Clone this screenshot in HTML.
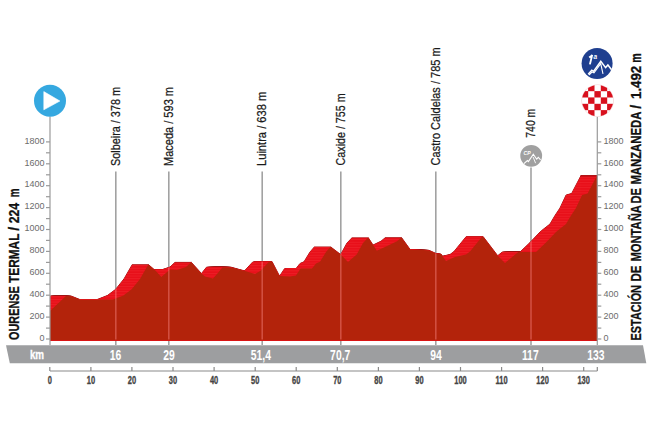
<!DOCTYPE html><html><head><meta charset="utf-8"><style>
html,body{margin:0;padding:0;background:#fff;width:650px;height:433px;overflow:hidden}
svg{display:block}
text{font-family:"Liberation Sans",sans-serif}
</style></head><body>
<svg width="650" height="433" viewBox="0 0 650 433">
<defs><clipPath id="cl"><rect x="50" y="0" width="547.3" height="433"/></clipPath></defs>

<g stroke="#a2a2a2" stroke-width="1.6">
<line x1="115.8" y1="171.5" x2="115.8" y2="345"/>
<line x1="168.8" y1="171.5" x2="168.8" y2="345"/>
<line x1="262.2" y1="171.5" x2="262.2" y2="345"/>
<line x1="340.8" y1="171.5" x2="340.8" y2="345"/>
<line x1="435.8" y1="171.5" x2="435.8" y2="345"/>
<line x1="531" y1="167.4" x2="531" y2="345"/>
</g>
<g clip-path="url(#cl)">
<g fill="none" stroke="#9c1010" stroke-width="1.0" stroke-linejoin="round">
<polygon points="50.0,340.5 50.0,311.0 66.0,296.0 71.0,296.0 80.0,299.6 113.0,299.6 123.4,295.5 131.7,289.3 140.0,278.9 148.3,264.5 155.9,271.0 161.3,277.0 170.0,269.5 177.0,270.0 186.0,267.0 191.2,262.2 201.9,274.0 205.0,276.5 213.0,278.5 217.9,273.0 222.5,267.2 231.0,267.2 244.2,270.8 255.0,274.0 260.5,270.8 268.7,262.0 272.0,261.5 279.5,276.0 290.0,276.5 296.0,275.5 300.6,268.6 312.0,268.6 316.0,263.5 320.0,261.8 326.0,252.0 330.5,246.8 340.7,254.5 348.0,262.0 356.7,254.5 363.0,243.0 368.2,237.6 376.8,250.8 385.0,247.0 397.0,241.2 401.5,237.5 410.2,249.6 429.0,250.3 436.0,253.5 441.0,254.0 446.0,261.0 455.0,257.0 466.0,254.5 470.0,251.5 482.2,236.6 483.1,236.6 497.7,255.7 505.0,263.0 513.7,255.7 518.3,252.0 536.0,252.0 546.0,242.5 556.0,232.0 559.0,229.5 566.0,224.0 571.0,215.5 576.0,208.0 582.1,195.0 587.6,193.6 597.3,175.0 597.3,340.5"/>
<polygon points="49.0,340.5 49.0,311.0 65.0,296.0 70.0,296.0 79.0,299.6 112.0,299.6 122.4,295.5 130.7,289.3 139.0,278.9 147.3,264.5 154.9,271.0 160.3,277.0 169.0,269.5 176.0,270.0 185.0,267.0 190.2,262.2 200.9,274.0 204.0,276.5 212.0,278.5 216.9,273.0 221.5,267.2 230.0,267.2 243.2,270.8 254.0,274.0 259.5,270.8 267.7,262.0 271.0,261.5 278.5,276.0 289.0,276.5 295.0,275.5 299.6,268.6 311.0,268.6 315.0,263.5 319.0,261.8 325.0,252.0 329.5,246.8 339.7,254.5 347.0,262.0 355.7,254.5 362.0,243.0 367.2,237.6 375.8,250.8 384.0,247.0 396.0,241.2 400.5,237.5 409.2,249.6 428.0,250.3 435.0,253.5 440.0,254.0 445.0,261.0 454.0,257.0 465.0,254.5 469.0,251.5 481.2,236.6 482.1,236.6 496.7,255.7 504.0,263.0 512.7,255.7 517.3,252.0 535.0,252.0 545.0,242.5 555.0,232.0 558.0,229.5 565.0,224.0 570.0,215.5 575.0,208.0 581.1,195.0 586.6,193.6 596.3,175.0 596.3,340.5"/>
<polygon points="48.0,340.5 48.0,311.0 64.0,296.0 69.0,296.0 78.0,299.6 111.0,299.6 121.4,295.5 129.7,289.3 138.0,278.9 146.3,264.5 153.9,271.0 159.3,277.0 168.0,269.5 175.0,270.0 184.0,267.0 189.2,262.2 199.9,274.0 203.0,276.5 211.0,278.5 215.9,273.0 220.5,267.2 229.0,267.2 242.2,270.8 253.0,274.0 258.5,270.8 266.7,262.0 270.0,261.5 277.5,276.0 288.0,276.5 294.0,275.5 298.6,268.6 310.0,268.6 314.0,263.5 318.0,261.8 324.0,252.0 328.5,246.8 338.7,254.5 346.0,262.0 354.7,254.5 361.0,243.0 366.2,237.6 374.8,250.8 383.0,247.0 395.0,241.2 399.5,237.5 408.2,249.6 427.0,250.3 434.0,253.5 439.0,254.0 444.0,261.0 453.0,257.0 464.0,254.5 468.0,251.5 480.2,236.6 481.1,236.6 495.7,255.7 503.0,263.0 511.7,255.7 516.3,252.0 534.0,252.0 544.0,242.5 554.0,232.0 557.0,229.5 564.0,224.0 569.0,215.5 574.0,208.0 580.1,195.0 585.6,193.6 595.3,175.0 595.3,340.5"/>
<polygon points="47.0,340.5 47.0,311.0 63.0,296.0 68.0,296.0 77.0,299.6 110.0,299.6 120.4,295.5 128.7,289.3 137.0,278.9 145.3,264.5 152.9,271.0 158.3,277.0 167.0,269.5 174.0,270.0 183.0,267.0 188.2,262.2 198.9,274.0 202.0,276.5 210.0,278.5 214.9,273.0 219.5,267.2 228.0,267.2 241.2,270.8 252.0,274.0 257.5,270.8 265.7,262.0 269.0,261.5 276.5,276.0 287.0,276.5 293.0,275.5 297.6,268.6 309.0,268.6 313.0,263.5 317.0,261.8 323.0,252.0 327.5,246.8 337.7,254.5 345.0,262.0 353.7,254.5 360.0,243.0 365.2,237.6 373.8,250.8 382.0,247.0 394.0,241.2 398.5,237.5 407.2,249.6 426.0,250.3 433.0,253.5 438.0,254.0 443.0,261.0 452.0,257.0 463.0,254.5 467.0,251.5 479.2,236.6 480.1,236.6 494.7,255.7 502.0,263.0 510.7,255.7 515.3,252.0 533.0,252.0 543.0,242.5 553.0,232.0 556.0,229.5 563.0,224.0 568.0,215.5 573.0,208.0 579.1,195.0 584.6,193.6 594.3,175.0 594.3,340.5"/>
<polygon points="46.0,340.5 46.0,311.0 62.0,296.0 67.0,296.0 76.0,299.6 109.0,299.6 119.4,295.5 127.7,289.3 136.0,278.9 144.3,264.5 151.9,271.0 157.3,277.0 166.0,269.5 173.0,270.0 182.0,267.0 187.2,262.2 197.9,274.0 201.0,276.5 209.0,278.5 213.9,273.0 218.5,267.2 227.0,267.2 240.2,270.8 251.0,274.0 256.5,270.8 264.7,262.0 268.0,261.5 275.5,276.0 286.0,276.5 292.0,275.5 296.6,268.6 308.0,268.6 312.0,263.5 316.0,261.8 322.0,252.0 326.5,246.8 336.7,254.5 344.0,262.0 352.7,254.5 359.0,243.0 364.2,237.6 372.8,250.8 381.0,247.0 393.0,241.2 397.5,237.5 406.2,249.6 425.0,250.3 432.0,253.5 437.0,254.0 442.0,261.0 451.0,257.0 462.0,254.5 466.0,251.5 478.2,236.6 479.1,236.6 493.7,255.7 501.0,263.0 509.7,255.7 514.3,252.0 532.0,252.0 542.0,242.5 552.0,232.0 555.0,229.5 562.0,224.0 567.0,215.5 572.0,208.0 578.1,195.0 583.6,193.6 593.3,175.0 593.3,340.5"/>
<polygon points="45.0,340.5 45.0,311.0 61.0,296.0 66.0,296.0 75.0,299.6 108.0,299.6 118.4,295.5 126.7,289.3 135.0,278.9 143.3,264.5 150.9,271.0 156.3,277.0 165.0,269.5 172.0,270.0 181.0,267.0 186.2,262.2 196.9,274.0 200.0,276.5 208.0,278.5 212.9,273.0 217.5,267.2 226.0,267.2 239.2,270.8 250.0,274.0 255.5,270.8 263.7,262.0 267.0,261.5 274.5,276.0 285.0,276.5 291.0,275.5 295.6,268.6 307.0,268.6 311.0,263.5 315.0,261.8 321.0,252.0 325.5,246.8 335.7,254.5 343.0,262.0 351.7,254.5 358.0,243.0 363.2,237.6 371.8,250.8 380.0,247.0 392.0,241.2 396.5,237.5 405.2,249.6 424.0,250.3 431.0,253.5 436.0,254.0 441.0,261.0 450.0,257.0 461.0,254.5 465.0,251.5 477.2,236.6 478.1,236.6 492.7,255.7 500.0,263.0 508.7,255.7 513.3,252.0 531.0,252.0 541.0,242.5 551.0,232.0 554.0,229.5 561.0,224.0 566.0,215.5 571.0,208.0 577.1,195.0 582.6,193.6 592.3,175.0 592.3,340.5"/>
<polygon points="44.0,340.5 44.0,311.0 60.0,296.0 65.0,296.0 74.0,299.6 107.0,299.6 117.4,295.5 125.7,289.3 134.0,278.9 142.3,264.5 149.9,271.0 155.3,277.0 164.0,269.5 171.0,270.0 180.0,267.0 185.2,262.2 195.9,274.0 199.0,276.5 207.0,278.5 211.9,273.0 216.5,267.2 225.0,267.2 238.2,270.8 249.0,274.0 254.5,270.8 262.7,262.0 266.0,261.5 273.5,276.0 284.0,276.5 290.0,275.5 294.6,268.6 306.0,268.6 310.0,263.5 314.0,261.8 320.0,252.0 324.5,246.8 334.7,254.5 342.0,262.0 350.7,254.5 357.0,243.0 362.2,237.6 370.8,250.8 379.0,247.0 391.0,241.2 395.5,237.5 404.2,249.6 423.0,250.3 430.0,253.5 435.0,254.0 440.0,261.0 449.0,257.0 460.0,254.5 464.0,251.5 476.2,236.6 477.1,236.6 491.7,255.7 499.0,263.0 507.7,255.7 512.3,252.0 530.0,252.0 540.0,242.5 550.0,232.0 553.0,229.5 560.0,224.0 565.0,215.5 570.0,208.0 576.1,195.0 581.6,193.6 591.3,175.0 591.3,340.5"/>
<polygon points="43.0,340.5 43.0,311.0 59.0,296.0 64.0,296.0 73.0,299.6 106.0,299.6 116.4,295.5 124.7,289.3 133.0,278.9 141.3,264.5 148.9,271.0 154.3,277.0 163.0,269.5 170.0,270.0 179.0,267.0 184.2,262.2 194.9,274.0 198.0,276.5 206.0,278.5 210.9,273.0 215.5,267.2 224.0,267.2 237.2,270.8 248.0,274.0 253.5,270.8 261.7,262.0 265.0,261.5 272.5,276.0 283.0,276.5 289.0,275.5 293.6,268.6 305.0,268.6 309.0,263.5 313.0,261.8 319.0,252.0 323.5,246.8 333.7,254.5 341.0,262.0 349.7,254.5 356.0,243.0 361.2,237.6 369.8,250.8 378.0,247.0 390.0,241.2 394.5,237.5 403.2,249.6 422.0,250.3 429.0,253.5 434.0,254.0 439.0,261.0 448.0,257.0 459.0,254.5 463.0,251.5 475.2,236.6 476.1,236.6 490.7,255.7 498.0,263.0 506.7,255.7 511.3,252.0 529.0,252.0 539.0,242.5 549.0,232.0 552.0,229.5 559.0,224.0 564.0,215.5 569.0,208.0 575.1,195.0 580.6,193.6 590.3,175.0 590.3,340.5"/>
<polygon points="42.0,340.5 42.0,311.0 58.0,296.0 63.0,296.0 72.0,299.6 105.0,299.6 115.4,295.5 123.7,289.3 132.0,278.9 140.3,264.5 147.9,271.0 153.3,277.0 162.0,269.5 169.0,270.0 178.0,267.0 183.2,262.2 193.9,274.0 197.0,276.5 205.0,278.5 209.9,273.0 214.5,267.2 223.0,267.2 236.2,270.8 247.0,274.0 252.5,270.8 260.7,262.0 264.0,261.5 271.5,276.0 282.0,276.5 288.0,275.5 292.6,268.6 304.0,268.6 308.0,263.5 312.0,261.8 318.0,252.0 322.5,246.8 332.7,254.5 340.0,262.0 348.7,254.5 355.0,243.0 360.2,237.6 368.8,250.8 377.0,247.0 389.0,241.2 393.5,237.5 402.2,249.6 421.0,250.3 428.0,253.5 433.0,254.0 438.0,261.0 447.0,257.0 458.0,254.5 462.0,251.5 474.2,236.6 475.1,236.6 489.7,255.7 497.0,263.0 505.7,255.7 510.3,252.0 528.0,252.0 538.0,242.5 548.0,232.0 551.0,229.5 558.0,224.0 563.0,215.5 568.0,208.0 574.1,195.0 579.6,193.6 589.3,175.0 589.3,340.5"/>
<polygon points="41.0,340.5 41.0,311.0 57.0,296.0 62.0,296.0 71.0,299.6 104.0,299.6 114.4,295.5 122.7,289.3 131.0,278.9 139.3,264.5 146.9,271.0 152.3,277.0 161.0,269.5 168.0,270.0 177.0,267.0 182.2,262.2 192.9,274.0 196.0,276.5 204.0,278.5 208.9,273.0 213.5,267.2 222.0,267.2 235.2,270.8 246.0,274.0 251.5,270.8 259.7,262.0 263.0,261.5 270.5,276.0 281.0,276.5 287.0,275.5 291.6,268.6 303.0,268.6 307.0,263.5 311.0,261.8 317.0,252.0 321.5,246.8 331.7,254.5 339.0,262.0 347.7,254.5 354.0,243.0 359.2,237.6 367.8,250.8 376.0,247.0 388.0,241.2 392.5,237.5 401.2,249.6 420.0,250.3 427.0,253.5 432.0,254.0 437.0,261.0 446.0,257.0 457.0,254.5 461.0,251.5 473.2,236.6 474.1,236.6 488.7,255.7 496.0,263.0 504.7,255.7 509.3,252.0 527.0,252.0 537.0,242.5 547.0,232.0 550.0,229.5 557.0,224.0 562.0,215.5 567.0,208.0 573.1,195.0 578.6,193.6 588.3,175.0 588.3,340.5"/>
<polygon points="40.0,340.5 40.0,311.0 56.0,296.0 61.0,296.0 70.0,299.6 103.0,299.6 113.4,295.5 121.7,289.3 130.0,278.9 138.3,264.5 145.9,271.0 151.3,277.0 160.0,269.5 167.0,270.0 176.0,267.0 181.2,262.2 191.9,274.0 195.0,276.5 203.0,278.5 207.9,273.0 212.5,267.2 221.0,267.2 234.2,270.8 245.0,274.0 250.5,270.8 258.7,262.0 262.0,261.5 269.5,276.0 280.0,276.5 286.0,275.5 290.6,268.6 302.0,268.6 306.0,263.5 310.0,261.8 316.0,252.0 320.5,246.8 330.7,254.5 338.0,262.0 346.7,254.5 353.0,243.0 358.2,237.6 366.8,250.8 375.0,247.0 387.0,241.2 391.5,237.5 400.2,249.6 419.0,250.3 426.0,253.5 431.0,254.0 436.0,261.0 445.0,257.0 456.0,254.5 460.0,251.5 472.2,236.6 473.1,236.6 487.7,255.7 495.0,263.0 503.7,255.7 508.3,252.0 526.0,252.0 536.0,242.5 546.0,232.0 549.0,229.5 556.0,224.0 561.0,215.5 566.0,208.0 572.1,195.0 577.6,193.6 587.3,175.0 587.3,340.5"/>
<polygon points="39.0,340.5 39.0,311.0 55.0,296.0 60.0,296.0 69.0,299.6 102.0,299.6 112.4,295.5 120.7,289.3 129.0,278.9 137.3,264.5 144.9,271.0 150.3,277.0 159.0,269.5 166.0,270.0 175.0,267.0 180.2,262.2 190.9,274.0 194.0,276.5 202.0,278.5 206.9,273.0 211.5,267.2 220.0,267.2 233.2,270.8 244.0,274.0 249.5,270.8 257.7,262.0 261.0,261.5 268.5,276.0 279.0,276.5 285.0,275.5 289.6,268.6 301.0,268.6 305.0,263.5 309.0,261.8 315.0,252.0 319.5,246.8 329.7,254.5 337.0,262.0 345.7,254.5 352.0,243.0 357.2,237.6 365.8,250.8 374.0,247.0 386.0,241.2 390.5,237.5 399.2,249.6 418.0,250.3 425.0,253.5 430.0,254.0 435.0,261.0 444.0,257.0 455.0,254.5 459.0,251.5 471.2,236.6 472.1,236.6 486.7,255.7 494.0,263.0 502.7,255.7 507.3,252.0 525.0,252.0 535.0,242.5 545.0,232.0 548.0,229.5 555.0,224.0 560.0,215.5 565.0,208.0 571.1,195.0 576.6,193.6 586.3,175.0 586.3,340.5"/>
<polygon points="38.0,340.5 38.0,311.0 54.0,296.0 59.0,296.0 68.0,299.6 101.0,299.6 111.4,295.5 119.7,289.3 128.0,278.9 136.3,264.5 143.9,271.0 149.3,277.0 158.0,269.5 165.0,270.0 174.0,267.0 179.2,262.2 189.9,274.0 193.0,276.5 201.0,278.5 205.9,273.0 210.5,267.2 219.0,267.2 232.2,270.8 243.0,274.0 248.5,270.8 256.7,262.0 260.0,261.5 267.5,276.0 278.0,276.5 284.0,275.5 288.6,268.6 300.0,268.6 304.0,263.5 308.0,261.8 314.0,252.0 318.5,246.8 328.7,254.5 336.0,262.0 344.7,254.5 351.0,243.0 356.2,237.6 364.8,250.8 373.0,247.0 385.0,241.2 389.5,237.5 398.2,249.6 417.0,250.3 424.0,253.5 429.0,254.0 434.0,261.0 443.0,257.0 454.0,254.5 458.0,251.5 470.2,236.6 471.1,236.6 485.7,255.7 493.0,263.0 501.7,255.7 506.3,252.0 524.0,252.0 534.0,242.5 544.0,232.0 547.0,229.5 554.0,224.0 559.0,215.5 564.0,208.0 570.1,195.0 575.6,193.6 585.3,175.0 585.3,340.5"/>
<polygon points="37.0,340.5 37.0,311.0 53.0,296.0 58.0,296.0 67.0,299.6 100.0,299.6 110.4,295.5 118.7,289.3 127.0,278.9 135.3,264.5 142.9,271.0 148.3,277.0 157.0,269.5 164.0,270.0 173.0,267.0 178.2,262.2 188.9,274.0 192.0,276.5 200.0,278.5 204.9,273.0 209.5,267.2 218.0,267.2 231.2,270.8 242.0,274.0 247.5,270.8 255.7,262.0 259.0,261.5 266.5,276.0 277.0,276.5 283.0,275.5 287.6,268.6 299.0,268.6 303.0,263.5 307.0,261.8 313.0,252.0 317.5,246.8 327.7,254.5 335.0,262.0 343.7,254.5 350.0,243.0 355.2,237.6 363.8,250.8 372.0,247.0 384.0,241.2 388.5,237.5 397.2,249.6 416.0,250.3 423.0,253.5 428.0,254.0 433.0,261.0 442.0,257.0 453.0,254.5 457.0,251.5 469.2,236.6 470.1,236.6 484.7,255.7 492.0,263.0 500.7,255.7 505.3,252.0 523.0,252.0 533.0,242.5 543.0,232.0 546.0,229.5 553.0,224.0 558.0,215.5 563.0,208.0 569.1,195.0 574.6,193.6 584.3,175.0 584.3,340.5"/>
<polygon points="36.0,340.5 36.0,311.0 52.0,296.0 57.0,296.0 66.0,299.6 99.0,299.6 109.4,295.5 117.7,289.3 126.0,278.9 134.3,264.5 141.9,271.0 147.3,277.0 156.0,269.5 163.0,270.0 172.0,267.0 177.2,262.2 187.9,274.0 191.0,276.5 199.0,278.5 203.9,273.0 208.5,267.2 217.0,267.2 230.2,270.8 241.0,274.0 246.5,270.8 254.7,262.0 258.0,261.5 265.5,276.0 276.0,276.5 282.0,275.5 286.6,268.6 298.0,268.6 302.0,263.5 306.0,261.8 312.0,252.0 316.5,246.8 326.7,254.5 334.0,262.0 342.7,254.5 349.0,243.0 354.2,237.6 362.8,250.8 371.0,247.0 383.0,241.2 387.5,237.5 396.2,249.6 415.0,250.3 422.0,253.5 427.0,254.0 432.0,261.0 441.0,257.0 452.0,254.5 456.0,251.5 468.2,236.6 469.1,236.6 483.7,255.7 491.0,263.0 499.7,255.7 504.3,252.0 522.0,252.0 532.0,242.5 542.0,232.0 545.0,229.5 552.0,224.0 557.0,215.5 562.0,208.0 568.1,195.0 573.6,193.6 583.3,175.0 583.3,340.5"/>
<polygon points="35.0,340.5 35.0,311.0 51.0,296.0 56.0,296.0 65.0,299.6 98.0,299.6 108.4,295.5 116.7,289.3 125.0,278.9 133.3,264.5 140.9,271.0 146.3,277.0 155.0,269.5 162.0,270.0 171.0,267.0 176.2,262.2 186.9,274.0 190.0,276.5 198.0,278.5 202.9,273.0 207.5,267.2 216.0,267.2 229.2,270.8 240.0,274.0 245.5,270.8 253.7,262.0 257.0,261.5 264.5,276.0 275.0,276.5 281.0,275.5 285.6,268.6 297.0,268.6 301.0,263.5 305.0,261.8 311.0,252.0 315.5,246.8 325.7,254.5 333.0,262.0 341.7,254.5 348.0,243.0 353.2,237.6 361.8,250.8 370.0,247.0 382.0,241.2 386.5,237.5 395.2,249.6 414.0,250.3 421.0,253.5 426.0,254.0 431.0,261.0 440.0,257.0 451.0,254.5 455.0,251.5 467.2,236.6 468.1,236.6 482.7,255.7 490.0,263.0 498.7,255.7 503.3,252.0 521.0,252.0 531.0,242.5 541.0,232.0 544.0,229.5 551.0,224.0 556.0,215.5 561.0,208.0 567.1,195.0 572.6,193.6 582.3,175.0 582.3,340.5"/>
<polygon points="34.0,340.5 34.0,311.0 50.0,296.0 55.0,296.0 64.0,299.6 97.0,299.6 107.4,295.5 115.7,289.3 124.0,278.9 132.3,264.5 139.9,271.0 145.3,277.0 154.0,269.5 161.0,270.0 170.0,267.0 175.2,262.2 185.9,274.0 189.0,276.5 197.0,278.5 201.9,273.0 206.5,267.2 215.0,267.2 228.2,270.8 239.0,274.0 244.5,270.8 252.7,262.0 256.0,261.5 263.5,276.0 274.0,276.5 280.0,275.5 284.6,268.6 296.0,268.6 300.0,263.5 304.0,261.8 310.0,252.0 314.5,246.8 324.7,254.5 332.0,262.0 340.7,254.5 347.0,243.0 352.2,237.6 360.8,250.8 369.0,247.0 381.0,241.2 385.5,237.5 394.2,249.6 413.0,250.3 420.0,253.5 425.0,254.0 430.0,261.0 439.0,257.0 450.0,254.5 454.0,251.5 466.2,236.6 467.1,236.6 481.7,255.7 489.0,263.0 497.7,255.7 502.3,252.0 520.0,252.0 530.0,242.5 540.0,232.0 543.0,229.5 550.0,224.0 555.0,215.5 560.0,208.0 566.1,195.0 571.6,193.6 581.3,175.0 581.3,340.5"/>
</g><g fill="#e8101a">
<polygon points="50.0,340.5 50.0,311.0 66.0,296.0 71.0,296.0 80.0,299.6 113.0,299.6 123.4,295.5 131.7,289.3 140.0,278.9 148.3,264.5 155.9,271.0 161.3,277.0 170.0,269.5 177.0,270.0 186.0,267.0 191.2,262.2 201.9,274.0 205.0,276.5 213.0,278.5 217.9,273.0 222.5,267.2 231.0,267.2 244.2,270.8 255.0,274.0 260.5,270.8 268.7,262.0 272.0,261.5 279.5,276.0 290.0,276.5 296.0,275.5 300.6,268.6 312.0,268.6 316.0,263.5 320.0,261.8 326.0,252.0 330.5,246.8 340.7,254.5 348.0,262.0 356.7,254.5 363.0,243.0 368.2,237.6 376.8,250.8 385.0,247.0 397.0,241.2 401.5,237.5 410.2,249.6 429.0,250.3 436.0,253.5 441.0,254.0 446.0,261.0 455.0,257.0 466.0,254.5 470.0,251.5 482.2,236.6 483.1,236.6 497.7,255.7 505.0,263.0 513.7,255.7 518.3,252.0 536.0,252.0 546.0,242.5 556.0,232.0 559.0,229.5 566.0,224.0 571.0,215.5 576.0,208.0 582.1,195.0 587.6,193.6 597.3,175.0 597.3,340.5"/>
<polygon points="49.0,340.5 49.0,311.0 65.0,296.0 70.0,296.0 79.0,299.6 112.0,299.6 122.4,295.5 130.7,289.3 139.0,278.9 147.3,264.5 154.9,271.0 160.3,277.0 169.0,269.5 176.0,270.0 185.0,267.0 190.2,262.2 200.9,274.0 204.0,276.5 212.0,278.5 216.9,273.0 221.5,267.2 230.0,267.2 243.2,270.8 254.0,274.0 259.5,270.8 267.7,262.0 271.0,261.5 278.5,276.0 289.0,276.5 295.0,275.5 299.6,268.6 311.0,268.6 315.0,263.5 319.0,261.8 325.0,252.0 329.5,246.8 339.7,254.5 347.0,262.0 355.7,254.5 362.0,243.0 367.2,237.6 375.8,250.8 384.0,247.0 396.0,241.2 400.5,237.5 409.2,249.6 428.0,250.3 435.0,253.5 440.0,254.0 445.0,261.0 454.0,257.0 465.0,254.5 469.0,251.5 481.2,236.6 482.1,236.6 496.7,255.7 504.0,263.0 512.7,255.7 517.3,252.0 535.0,252.0 545.0,242.5 555.0,232.0 558.0,229.5 565.0,224.0 570.0,215.5 575.0,208.0 581.1,195.0 586.6,193.6 596.3,175.0 596.3,340.5"/>
<polygon points="48.0,340.5 48.0,311.0 64.0,296.0 69.0,296.0 78.0,299.6 111.0,299.6 121.4,295.5 129.7,289.3 138.0,278.9 146.3,264.5 153.9,271.0 159.3,277.0 168.0,269.5 175.0,270.0 184.0,267.0 189.2,262.2 199.9,274.0 203.0,276.5 211.0,278.5 215.9,273.0 220.5,267.2 229.0,267.2 242.2,270.8 253.0,274.0 258.5,270.8 266.7,262.0 270.0,261.5 277.5,276.0 288.0,276.5 294.0,275.5 298.6,268.6 310.0,268.6 314.0,263.5 318.0,261.8 324.0,252.0 328.5,246.8 338.7,254.5 346.0,262.0 354.7,254.5 361.0,243.0 366.2,237.6 374.8,250.8 383.0,247.0 395.0,241.2 399.5,237.5 408.2,249.6 427.0,250.3 434.0,253.5 439.0,254.0 444.0,261.0 453.0,257.0 464.0,254.5 468.0,251.5 480.2,236.6 481.1,236.6 495.7,255.7 503.0,263.0 511.7,255.7 516.3,252.0 534.0,252.0 544.0,242.5 554.0,232.0 557.0,229.5 564.0,224.0 569.0,215.5 574.0,208.0 580.1,195.0 585.6,193.6 595.3,175.0 595.3,340.5"/>
<polygon points="47.0,340.5 47.0,311.0 63.0,296.0 68.0,296.0 77.0,299.6 110.0,299.6 120.4,295.5 128.7,289.3 137.0,278.9 145.3,264.5 152.9,271.0 158.3,277.0 167.0,269.5 174.0,270.0 183.0,267.0 188.2,262.2 198.9,274.0 202.0,276.5 210.0,278.5 214.9,273.0 219.5,267.2 228.0,267.2 241.2,270.8 252.0,274.0 257.5,270.8 265.7,262.0 269.0,261.5 276.5,276.0 287.0,276.5 293.0,275.5 297.6,268.6 309.0,268.6 313.0,263.5 317.0,261.8 323.0,252.0 327.5,246.8 337.7,254.5 345.0,262.0 353.7,254.5 360.0,243.0 365.2,237.6 373.8,250.8 382.0,247.0 394.0,241.2 398.5,237.5 407.2,249.6 426.0,250.3 433.0,253.5 438.0,254.0 443.0,261.0 452.0,257.0 463.0,254.5 467.0,251.5 479.2,236.6 480.1,236.6 494.7,255.7 502.0,263.0 510.7,255.7 515.3,252.0 533.0,252.0 543.0,242.5 553.0,232.0 556.0,229.5 563.0,224.0 568.0,215.5 573.0,208.0 579.1,195.0 584.6,193.6 594.3,175.0 594.3,340.5"/>
<polygon points="46.0,340.5 46.0,311.0 62.0,296.0 67.0,296.0 76.0,299.6 109.0,299.6 119.4,295.5 127.7,289.3 136.0,278.9 144.3,264.5 151.9,271.0 157.3,277.0 166.0,269.5 173.0,270.0 182.0,267.0 187.2,262.2 197.9,274.0 201.0,276.5 209.0,278.5 213.9,273.0 218.5,267.2 227.0,267.2 240.2,270.8 251.0,274.0 256.5,270.8 264.7,262.0 268.0,261.5 275.5,276.0 286.0,276.5 292.0,275.5 296.6,268.6 308.0,268.6 312.0,263.5 316.0,261.8 322.0,252.0 326.5,246.8 336.7,254.5 344.0,262.0 352.7,254.5 359.0,243.0 364.2,237.6 372.8,250.8 381.0,247.0 393.0,241.2 397.5,237.5 406.2,249.6 425.0,250.3 432.0,253.5 437.0,254.0 442.0,261.0 451.0,257.0 462.0,254.5 466.0,251.5 478.2,236.6 479.1,236.6 493.7,255.7 501.0,263.0 509.7,255.7 514.3,252.0 532.0,252.0 542.0,242.5 552.0,232.0 555.0,229.5 562.0,224.0 567.0,215.5 572.0,208.0 578.1,195.0 583.6,193.6 593.3,175.0 593.3,340.5"/>
<polygon points="45.0,340.5 45.0,311.0 61.0,296.0 66.0,296.0 75.0,299.6 108.0,299.6 118.4,295.5 126.7,289.3 135.0,278.9 143.3,264.5 150.9,271.0 156.3,277.0 165.0,269.5 172.0,270.0 181.0,267.0 186.2,262.2 196.9,274.0 200.0,276.5 208.0,278.5 212.9,273.0 217.5,267.2 226.0,267.2 239.2,270.8 250.0,274.0 255.5,270.8 263.7,262.0 267.0,261.5 274.5,276.0 285.0,276.5 291.0,275.5 295.6,268.6 307.0,268.6 311.0,263.5 315.0,261.8 321.0,252.0 325.5,246.8 335.7,254.5 343.0,262.0 351.7,254.5 358.0,243.0 363.2,237.6 371.8,250.8 380.0,247.0 392.0,241.2 396.5,237.5 405.2,249.6 424.0,250.3 431.0,253.5 436.0,254.0 441.0,261.0 450.0,257.0 461.0,254.5 465.0,251.5 477.2,236.6 478.1,236.6 492.7,255.7 500.0,263.0 508.7,255.7 513.3,252.0 531.0,252.0 541.0,242.5 551.0,232.0 554.0,229.5 561.0,224.0 566.0,215.5 571.0,208.0 577.1,195.0 582.6,193.6 592.3,175.0 592.3,340.5"/>
<polygon points="44.0,340.5 44.0,311.0 60.0,296.0 65.0,296.0 74.0,299.6 107.0,299.6 117.4,295.5 125.7,289.3 134.0,278.9 142.3,264.5 149.9,271.0 155.3,277.0 164.0,269.5 171.0,270.0 180.0,267.0 185.2,262.2 195.9,274.0 199.0,276.5 207.0,278.5 211.9,273.0 216.5,267.2 225.0,267.2 238.2,270.8 249.0,274.0 254.5,270.8 262.7,262.0 266.0,261.5 273.5,276.0 284.0,276.5 290.0,275.5 294.6,268.6 306.0,268.6 310.0,263.5 314.0,261.8 320.0,252.0 324.5,246.8 334.7,254.5 342.0,262.0 350.7,254.5 357.0,243.0 362.2,237.6 370.8,250.8 379.0,247.0 391.0,241.2 395.5,237.5 404.2,249.6 423.0,250.3 430.0,253.5 435.0,254.0 440.0,261.0 449.0,257.0 460.0,254.5 464.0,251.5 476.2,236.6 477.1,236.6 491.7,255.7 499.0,263.0 507.7,255.7 512.3,252.0 530.0,252.0 540.0,242.5 550.0,232.0 553.0,229.5 560.0,224.0 565.0,215.5 570.0,208.0 576.1,195.0 581.6,193.6 591.3,175.0 591.3,340.5"/>
<polygon points="43.0,340.5 43.0,311.0 59.0,296.0 64.0,296.0 73.0,299.6 106.0,299.6 116.4,295.5 124.7,289.3 133.0,278.9 141.3,264.5 148.9,271.0 154.3,277.0 163.0,269.5 170.0,270.0 179.0,267.0 184.2,262.2 194.9,274.0 198.0,276.5 206.0,278.5 210.9,273.0 215.5,267.2 224.0,267.2 237.2,270.8 248.0,274.0 253.5,270.8 261.7,262.0 265.0,261.5 272.5,276.0 283.0,276.5 289.0,275.5 293.6,268.6 305.0,268.6 309.0,263.5 313.0,261.8 319.0,252.0 323.5,246.8 333.7,254.5 341.0,262.0 349.7,254.5 356.0,243.0 361.2,237.6 369.8,250.8 378.0,247.0 390.0,241.2 394.5,237.5 403.2,249.6 422.0,250.3 429.0,253.5 434.0,254.0 439.0,261.0 448.0,257.0 459.0,254.5 463.0,251.5 475.2,236.6 476.1,236.6 490.7,255.7 498.0,263.0 506.7,255.7 511.3,252.0 529.0,252.0 539.0,242.5 549.0,232.0 552.0,229.5 559.0,224.0 564.0,215.5 569.0,208.0 575.1,195.0 580.6,193.6 590.3,175.0 590.3,340.5"/>
<polygon points="42.0,340.5 42.0,311.0 58.0,296.0 63.0,296.0 72.0,299.6 105.0,299.6 115.4,295.5 123.7,289.3 132.0,278.9 140.3,264.5 147.9,271.0 153.3,277.0 162.0,269.5 169.0,270.0 178.0,267.0 183.2,262.2 193.9,274.0 197.0,276.5 205.0,278.5 209.9,273.0 214.5,267.2 223.0,267.2 236.2,270.8 247.0,274.0 252.5,270.8 260.7,262.0 264.0,261.5 271.5,276.0 282.0,276.5 288.0,275.5 292.6,268.6 304.0,268.6 308.0,263.5 312.0,261.8 318.0,252.0 322.5,246.8 332.7,254.5 340.0,262.0 348.7,254.5 355.0,243.0 360.2,237.6 368.8,250.8 377.0,247.0 389.0,241.2 393.5,237.5 402.2,249.6 421.0,250.3 428.0,253.5 433.0,254.0 438.0,261.0 447.0,257.0 458.0,254.5 462.0,251.5 474.2,236.6 475.1,236.6 489.7,255.7 497.0,263.0 505.7,255.7 510.3,252.0 528.0,252.0 538.0,242.5 548.0,232.0 551.0,229.5 558.0,224.0 563.0,215.5 568.0,208.0 574.1,195.0 579.6,193.6 589.3,175.0 589.3,340.5"/>
<polygon points="41.0,340.5 41.0,311.0 57.0,296.0 62.0,296.0 71.0,299.6 104.0,299.6 114.4,295.5 122.7,289.3 131.0,278.9 139.3,264.5 146.9,271.0 152.3,277.0 161.0,269.5 168.0,270.0 177.0,267.0 182.2,262.2 192.9,274.0 196.0,276.5 204.0,278.5 208.9,273.0 213.5,267.2 222.0,267.2 235.2,270.8 246.0,274.0 251.5,270.8 259.7,262.0 263.0,261.5 270.5,276.0 281.0,276.5 287.0,275.5 291.6,268.6 303.0,268.6 307.0,263.5 311.0,261.8 317.0,252.0 321.5,246.8 331.7,254.5 339.0,262.0 347.7,254.5 354.0,243.0 359.2,237.6 367.8,250.8 376.0,247.0 388.0,241.2 392.5,237.5 401.2,249.6 420.0,250.3 427.0,253.5 432.0,254.0 437.0,261.0 446.0,257.0 457.0,254.5 461.0,251.5 473.2,236.6 474.1,236.6 488.7,255.7 496.0,263.0 504.7,255.7 509.3,252.0 527.0,252.0 537.0,242.5 547.0,232.0 550.0,229.5 557.0,224.0 562.0,215.5 567.0,208.0 573.1,195.0 578.6,193.6 588.3,175.0 588.3,340.5"/>
<polygon points="40.0,340.5 40.0,311.0 56.0,296.0 61.0,296.0 70.0,299.6 103.0,299.6 113.4,295.5 121.7,289.3 130.0,278.9 138.3,264.5 145.9,271.0 151.3,277.0 160.0,269.5 167.0,270.0 176.0,267.0 181.2,262.2 191.9,274.0 195.0,276.5 203.0,278.5 207.9,273.0 212.5,267.2 221.0,267.2 234.2,270.8 245.0,274.0 250.5,270.8 258.7,262.0 262.0,261.5 269.5,276.0 280.0,276.5 286.0,275.5 290.6,268.6 302.0,268.6 306.0,263.5 310.0,261.8 316.0,252.0 320.5,246.8 330.7,254.5 338.0,262.0 346.7,254.5 353.0,243.0 358.2,237.6 366.8,250.8 375.0,247.0 387.0,241.2 391.5,237.5 400.2,249.6 419.0,250.3 426.0,253.5 431.0,254.0 436.0,261.0 445.0,257.0 456.0,254.5 460.0,251.5 472.2,236.6 473.1,236.6 487.7,255.7 495.0,263.0 503.7,255.7 508.3,252.0 526.0,252.0 536.0,242.5 546.0,232.0 549.0,229.5 556.0,224.0 561.0,215.5 566.0,208.0 572.1,195.0 577.6,193.6 587.3,175.0 587.3,340.5"/>
<polygon points="39.0,340.5 39.0,311.0 55.0,296.0 60.0,296.0 69.0,299.6 102.0,299.6 112.4,295.5 120.7,289.3 129.0,278.9 137.3,264.5 144.9,271.0 150.3,277.0 159.0,269.5 166.0,270.0 175.0,267.0 180.2,262.2 190.9,274.0 194.0,276.5 202.0,278.5 206.9,273.0 211.5,267.2 220.0,267.2 233.2,270.8 244.0,274.0 249.5,270.8 257.7,262.0 261.0,261.5 268.5,276.0 279.0,276.5 285.0,275.5 289.6,268.6 301.0,268.6 305.0,263.5 309.0,261.8 315.0,252.0 319.5,246.8 329.7,254.5 337.0,262.0 345.7,254.5 352.0,243.0 357.2,237.6 365.8,250.8 374.0,247.0 386.0,241.2 390.5,237.5 399.2,249.6 418.0,250.3 425.0,253.5 430.0,254.0 435.0,261.0 444.0,257.0 455.0,254.5 459.0,251.5 471.2,236.6 472.1,236.6 486.7,255.7 494.0,263.0 502.7,255.7 507.3,252.0 525.0,252.0 535.0,242.5 545.0,232.0 548.0,229.5 555.0,224.0 560.0,215.5 565.0,208.0 571.1,195.0 576.6,193.6 586.3,175.0 586.3,340.5"/>
<polygon points="38.0,340.5 38.0,311.0 54.0,296.0 59.0,296.0 68.0,299.6 101.0,299.6 111.4,295.5 119.7,289.3 128.0,278.9 136.3,264.5 143.9,271.0 149.3,277.0 158.0,269.5 165.0,270.0 174.0,267.0 179.2,262.2 189.9,274.0 193.0,276.5 201.0,278.5 205.9,273.0 210.5,267.2 219.0,267.2 232.2,270.8 243.0,274.0 248.5,270.8 256.7,262.0 260.0,261.5 267.5,276.0 278.0,276.5 284.0,275.5 288.6,268.6 300.0,268.6 304.0,263.5 308.0,261.8 314.0,252.0 318.5,246.8 328.7,254.5 336.0,262.0 344.7,254.5 351.0,243.0 356.2,237.6 364.8,250.8 373.0,247.0 385.0,241.2 389.5,237.5 398.2,249.6 417.0,250.3 424.0,253.5 429.0,254.0 434.0,261.0 443.0,257.0 454.0,254.5 458.0,251.5 470.2,236.6 471.1,236.6 485.7,255.7 493.0,263.0 501.7,255.7 506.3,252.0 524.0,252.0 534.0,242.5 544.0,232.0 547.0,229.5 554.0,224.0 559.0,215.5 564.0,208.0 570.1,195.0 575.6,193.6 585.3,175.0 585.3,340.5"/>
<polygon points="37.0,340.5 37.0,311.0 53.0,296.0 58.0,296.0 67.0,299.6 100.0,299.6 110.4,295.5 118.7,289.3 127.0,278.9 135.3,264.5 142.9,271.0 148.3,277.0 157.0,269.5 164.0,270.0 173.0,267.0 178.2,262.2 188.9,274.0 192.0,276.5 200.0,278.5 204.9,273.0 209.5,267.2 218.0,267.2 231.2,270.8 242.0,274.0 247.5,270.8 255.7,262.0 259.0,261.5 266.5,276.0 277.0,276.5 283.0,275.5 287.6,268.6 299.0,268.6 303.0,263.5 307.0,261.8 313.0,252.0 317.5,246.8 327.7,254.5 335.0,262.0 343.7,254.5 350.0,243.0 355.2,237.6 363.8,250.8 372.0,247.0 384.0,241.2 388.5,237.5 397.2,249.6 416.0,250.3 423.0,253.5 428.0,254.0 433.0,261.0 442.0,257.0 453.0,254.5 457.0,251.5 469.2,236.6 470.1,236.6 484.7,255.7 492.0,263.0 500.7,255.7 505.3,252.0 523.0,252.0 533.0,242.5 543.0,232.0 546.0,229.5 553.0,224.0 558.0,215.5 563.0,208.0 569.1,195.0 574.6,193.6 584.3,175.0 584.3,340.5"/>
<polygon points="36.0,340.5 36.0,311.0 52.0,296.0 57.0,296.0 66.0,299.6 99.0,299.6 109.4,295.5 117.7,289.3 126.0,278.9 134.3,264.5 141.9,271.0 147.3,277.0 156.0,269.5 163.0,270.0 172.0,267.0 177.2,262.2 187.9,274.0 191.0,276.5 199.0,278.5 203.9,273.0 208.5,267.2 217.0,267.2 230.2,270.8 241.0,274.0 246.5,270.8 254.7,262.0 258.0,261.5 265.5,276.0 276.0,276.5 282.0,275.5 286.6,268.6 298.0,268.6 302.0,263.5 306.0,261.8 312.0,252.0 316.5,246.8 326.7,254.5 334.0,262.0 342.7,254.5 349.0,243.0 354.2,237.6 362.8,250.8 371.0,247.0 383.0,241.2 387.5,237.5 396.2,249.6 415.0,250.3 422.0,253.5 427.0,254.0 432.0,261.0 441.0,257.0 452.0,254.5 456.0,251.5 468.2,236.6 469.1,236.6 483.7,255.7 491.0,263.0 499.7,255.7 504.3,252.0 522.0,252.0 532.0,242.5 542.0,232.0 545.0,229.5 552.0,224.0 557.0,215.5 562.0,208.0 568.1,195.0 573.6,193.6 583.3,175.0 583.3,340.5"/>
<polygon points="35.0,340.5 35.0,311.0 51.0,296.0 56.0,296.0 65.0,299.6 98.0,299.6 108.4,295.5 116.7,289.3 125.0,278.9 133.3,264.5 140.9,271.0 146.3,277.0 155.0,269.5 162.0,270.0 171.0,267.0 176.2,262.2 186.9,274.0 190.0,276.5 198.0,278.5 202.9,273.0 207.5,267.2 216.0,267.2 229.2,270.8 240.0,274.0 245.5,270.8 253.7,262.0 257.0,261.5 264.5,276.0 275.0,276.5 281.0,275.5 285.6,268.6 297.0,268.6 301.0,263.5 305.0,261.8 311.0,252.0 315.5,246.8 325.7,254.5 333.0,262.0 341.7,254.5 348.0,243.0 353.2,237.6 361.8,250.8 370.0,247.0 382.0,241.2 386.5,237.5 395.2,249.6 414.0,250.3 421.0,253.5 426.0,254.0 431.0,261.0 440.0,257.0 451.0,254.5 455.0,251.5 467.2,236.6 468.1,236.6 482.7,255.7 490.0,263.0 498.7,255.7 503.3,252.0 521.0,252.0 531.0,242.5 541.0,232.0 544.0,229.5 551.0,224.0 556.0,215.5 561.0,208.0 567.1,195.0 572.6,193.6 582.3,175.0 582.3,340.5"/>
<polygon points="34.0,340.5 34.0,311.0 50.0,296.0 55.0,296.0 64.0,299.6 97.0,299.6 107.4,295.5 115.7,289.3 124.0,278.9 132.3,264.5 139.9,271.0 145.3,277.0 154.0,269.5 161.0,270.0 170.0,267.0 175.2,262.2 185.9,274.0 189.0,276.5 197.0,278.5 201.9,273.0 206.5,267.2 215.0,267.2 228.2,270.8 239.0,274.0 244.5,270.8 252.7,262.0 256.0,261.5 263.5,276.0 274.0,276.5 280.0,275.5 284.6,268.6 296.0,268.6 300.0,263.5 304.0,261.8 310.0,252.0 314.5,246.8 324.7,254.5 332.0,262.0 340.7,254.5 347.0,243.0 352.2,237.6 360.8,250.8 369.0,247.0 381.0,241.2 385.5,237.5 394.2,249.6 413.0,250.3 420.0,253.5 425.0,254.0 430.0,261.0 439.0,257.0 450.0,254.5 454.0,251.5 466.2,236.6 467.1,236.6 481.7,255.7 489.0,263.0 497.7,255.7 502.3,252.0 520.0,252.0 530.0,242.5 540.0,232.0 543.0,229.5 550.0,224.0 555.0,215.5 560.0,208.0 566.1,195.0 571.6,193.6 581.3,175.0 581.3,340.5"/>
</g></g>
<defs><pattern id="st" width="10" height="2.6" patternUnits="userSpaceOnUse"><rect x="0" y="0" width="10" height="0.9" fill="#ff6060" fill-opacity="0.18"/></pattern></defs>
<defs><clipPath id="pc">
<polygon points="50.0,340.5 50.0,311.0 66.0,296.0 71.0,296.0 80.0,299.6 113.0,299.6 123.4,295.5 131.7,289.3 140.0,278.9 148.3,264.5 155.9,271.0 161.3,277.0 170.0,269.5 177.0,270.0 186.0,267.0 191.2,262.2 201.9,274.0 205.0,276.5 213.0,278.5 217.9,273.0 222.5,267.2 231.0,267.2 244.2,270.8 255.0,274.0 260.5,270.8 268.7,262.0 272.0,261.5 279.5,276.0 290.0,276.5 296.0,275.5 300.6,268.6 312.0,268.6 316.0,263.5 320.0,261.8 326.0,252.0 330.5,246.8 340.7,254.5 348.0,262.0 356.7,254.5 363.0,243.0 368.2,237.6 376.8,250.8 385.0,247.0 397.0,241.2 401.5,237.5 410.2,249.6 429.0,250.3 436.0,253.5 441.0,254.0 446.0,261.0 455.0,257.0 466.0,254.5 470.0,251.5 482.2,236.6 483.1,236.6 497.7,255.7 505.0,263.0 513.7,255.7 518.3,252.0 536.0,252.0 546.0,242.5 556.0,232.0 559.0,229.5 566.0,224.0 571.0,215.5 576.0,208.0 582.1,195.0 587.6,193.6 597.3,175.0 597.3,340.5"/>
<polygon points="49.0,340.5 49.0,311.0 65.0,296.0 70.0,296.0 79.0,299.6 112.0,299.6 122.4,295.5 130.7,289.3 139.0,278.9 147.3,264.5 154.9,271.0 160.3,277.0 169.0,269.5 176.0,270.0 185.0,267.0 190.2,262.2 200.9,274.0 204.0,276.5 212.0,278.5 216.9,273.0 221.5,267.2 230.0,267.2 243.2,270.8 254.0,274.0 259.5,270.8 267.7,262.0 271.0,261.5 278.5,276.0 289.0,276.5 295.0,275.5 299.6,268.6 311.0,268.6 315.0,263.5 319.0,261.8 325.0,252.0 329.5,246.8 339.7,254.5 347.0,262.0 355.7,254.5 362.0,243.0 367.2,237.6 375.8,250.8 384.0,247.0 396.0,241.2 400.5,237.5 409.2,249.6 428.0,250.3 435.0,253.5 440.0,254.0 445.0,261.0 454.0,257.0 465.0,254.5 469.0,251.5 481.2,236.6 482.1,236.6 496.7,255.7 504.0,263.0 512.7,255.7 517.3,252.0 535.0,252.0 545.0,242.5 555.0,232.0 558.0,229.5 565.0,224.0 570.0,215.5 575.0,208.0 581.1,195.0 586.6,193.6 596.3,175.0 596.3,340.5"/>
<polygon points="48.0,340.5 48.0,311.0 64.0,296.0 69.0,296.0 78.0,299.6 111.0,299.6 121.4,295.5 129.7,289.3 138.0,278.9 146.3,264.5 153.9,271.0 159.3,277.0 168.0,269.5 175.0,270.0 184.0,267.0 189.2,262.2 199.9,274.0 203.0,276.5 211.0,278.5 215.9,273.0 220.5,267.2 229.0,267.2 242.2,270.8 253.0,274.0 258.5,270.8 266.7,262.0 270.0,261.5 277.5,276.0 288.0,276.5 294.0,275.5 298.6,268.6 310.0,268.6 314.0,263.5 318.0,261.8 324.0,252.0 328.5,246.8 338.7,254.5 346.0,262.0 354.7,254.5 361.0,243.0 366.2,237.6 374.8,250.8 383.0,247.0 395.0,241.2 399.5,237.5 408.2,249.6 427.0,250.3 434.0,253.5 439.0,254.0 444.0,261.0 453.0,257.0 464.0,254.5 468.0,251.5 480.2,236.6 481.1,236.6 495.7,255.7 503.0,263.0 511.7,255.7 516.3,252.0 534.0,252.0 544.0,242.5 554.0,232.0 557.0,229.5 564.0,224.0 569.0,215.5 574.0,208.0 580.1,195.0 585.6,193.6 595.3,175.0 595.3,340.5"/>
<polygon points="47.0,340.5 47.0,311.0 63.0,296.0 68.0,296.0 77.0,299.6 110.0,299.6 120.4,295.5 128.7,289.3 137.0,278.9 145.3,264.5 152.9,271.0 158.3,277.0 167.0,269.5 174.0,270.0 183.0,267.0 188.2,262.2 198.9,274.0 202.0,276.5 210.0,278.5 214.9,273.0 219.5,267.2 228.0,267.2 241.2,270.8 252.0,274.0 257.5,270.8 265.7,262.0 269.0,261.5 276.5,276.0 287.0,276.5 293.0,275.5 297.6,268.6 309.0,268.6 313.0,263.5 317.0,261.8 323.0,252.0 327.5,246.8 337.7,254.5 345.0,262.0 353.7,254.5 360.0,243.0 365.2,237.6 373.8,250.8 382.0,247.0 394.0,241.2 398.5,237.5 407.2,249.6 426.0,250.3 433.0,253.5 438.0,254.0 443.0,261.0 452.0,257.0 463.0,254.5 467.0,251.5 479.2,236.6 480.1,236.6 494.7,255.7 502.0,263.0 510.7,255.7 515.3,252.0 533.0,252.0 543.0,242.5 553.0,232.0 556.0,229.5 563.0,224.0 568.0,215.5 573.0,208.0 579.1,195.0 584.6,193.6 594.3,175.0 594.3,340.5"/>
<polygon points="46.0,340.5 46.0,311.0 62.0,296.0 67.0,296.0 76.0,299.6 109.0,299.6 119.4,295.5 127.7,289.3 136.0,278.9 144.3,264.5 151.9,271.0 157.3,277.0 166.0,269.5 173.0,270.0 182.0,267.0 187.2,262.2 197.9,274.0 201.0,276.5 209.0,278.5 213.9,273.0 218.5,267.2 227.0,267.2 240.2,270.8 251.0,274.0 256.5,270.8 264.7,262.0 268.0,261.5 275.5,276.0 286.0,276.5 292.0,275.5 296.6,268.6 308.0,268.6 312.0,263.5 316.0,261.8 322.0,252.0 326.5,246.8 336.7,254.5 344.0,262.0 352.7,254.5 359.0,243.0 364.2,237.6 372.8,250.8 381.0,247.0 393.0,241.2 397.5,237.5 406.2,249.6 425.0,250.3 432.0,253.5 437.0,254.0 442.0,261.0 451.0,257.0 462.0,254.5 466.0,251.5 478.2,236.6 479.1,236.6 493.7,255.7 501.0,263.0 509.7,255.7 514.3,252.0 532.0,252.0 542.0,242.5 552.0,232.0 555.0,229.5 562.0,224.0 567.0,215.5 572.0,208.0 578.1,195.0 583.6,193.6 593.3,175.0 593.3,340.5"/>
<polygon points="45.0,340.5 45.0,311.0 61.0,296.0 66.0,296.0 75.0,299.6 108.0,299.6 118.4,295.5 126.7,289.3 135.0,278.9 143.3,264.5 150.9,271.0 156.3,277.0 165.0,269.5 172.0,270.0 181.0,267.0 186.2,262.2 196.9,274.0 200.0,276.5 208.0,278.5 212.9,273.0 217.5,267.2 226.0,267.2 239.2,270.8 250.0,274.0 255.5,270.8 263.7,262.0 267.0,261.5 274.5,276.0 285.0,276.5 291.0,275.5 295.6,268.6 307.0,268.6 311.0,263.5 315.0,261.8 321.0,252.0 325.5,246.8 335.7,254.5 343.0,262.0 351.7,254.5 358.0,243.0 363.2,237.6 371.8,250.8 380.0,247.0 392.0,241.2 396.5,237.5 405.2,249.6 424.0,250.3 431.0,253.5 436.0,254.0 441.0,261.0 450.0,257.0 461.0,254.5 465.0,251.5 477.2,236.6 478.1,236.6 492.7,255.7 500.0,263.0 508.7,255.7 513.3,252.0 531.0,252.0 541.0,242.5 551.0,232.0 554.0,229.5 561.0,224.0 566.0,215.5 571.0,208.0 577.1,195.0 582.6,193.6 592.3,175.0 592.3,340.5"/>
<polygon points="44.0,340.5 44.0,311.0 60.0,296.0 65.0,296.0 74.0,299.6 107.0,299.6 117.4,295.5 125.7,289.3 134.0,278.9 142.3,264.5 149.9,271.0 155.3,277.0 164.0,269.5 171.0,270.0 180.0,267.0 185.2,262.2 195.9,274.0 199.0,276.5 207.0,278.5 211.9,273.0 216.5,267.2 225.0,267.2 238.2,270.8 249.0,274.0 254.5,270.8 262.7,262.0 266.0,261.5 273.5,276.0 284.0,276.5 290.0,275.5 294.6,268.6 306.0,268.6 310.0,263.5 314.0,261.8 320.0,252.0 324.5,246.8 334.7,254.5 342.0,262.0 350.7,254.5 357.0,243.0 362.2,237.6 370.8,250.8 379.0,247.0 391.0,241.2 395.5,237.5 404.2,249.6 423.0,250.3 430.0,253.5 435.0,254.0 440.0,261.0 449.0,257.0 460.0,254.5 464.0,251.5 476.2,236.6 477.1,236.6 491.7,255.7 499.0,263.0 507.7,255.7 512.3,252.0 530.0,252.0 540.0,242.5 550.0,232.0 553.0,229.5 560.0,224.0 565.0,215.5 570.0,208.0 576.1,195.0 581.6,193.6 591.3,175.0 591.3,340.5"/>
<polygon points="43.0,340.5 43.0,311.0 59.0,296.0 64.0,296.0 73.0,299.6 106.0,299.6 116.4,295.5 124.7,289.3 133.0,278.9 141.3,264.5 148.9,271.0 154.3,277.0 163.0,269.5 170.0,270.0 179.0,267.0 184.2,262.2 194.9,274.0 198.0,276.5 206.0,278.5 210.9,273.0 215.5,267.2 224.0,267.2 237.2,270.8 248.0,274.0 253.5,270.8 261.7,262.0 265.0,261.5 272.5,276.0 283.0,276.5 289.0,275.5 293.6,268.6 305.0,268.6 309.0,263.5 313.0,261.8 319.0,252.0 323.5,246.8 333.7,254.5 341.0,262.0 349.7,254.5 356.0,243.0 361.2,237.6 369.8,250.8 378.0,247.0 390.0,241.2 394.5,237.5 403.2,249.6 422.0,250.3 429.0,253.5 434.0,254.0 439.0,261.0 448.0,257.0 459.0,254.5 463.0,251.5 475.2,236.6 476.1,236.6 490.7,255.7 498.0,263.0 506.7,255.7 511.3,252.0 529.0,252.0 539.0,242.5 549.0,232.0 552.0,229.5 559.0,224.0 564.0,215.5 569.0,208.0 575.1,195.0 580.6,193.6 590.3,175.0 590.3,340.5"/>
<polygon points="42.0,340.5 42.0,311.0 58.0,296.0 63.0,296.0 72.0,299.6 105.0,299.6 115.4,295.5 123.7,289.3 132.0,278.9 140.3,264.5 147.9,271.0 153.3,277.0 162.0,269.5 169.0,270.0 178.0,267.0 183.2,262.2 193.9,274.0 197.0,276.5 205.0,278.5 209.9,273.0 214.5,267.2 223.0,267.2 236.2,270.8 247.0,274.0 252.5,270.8 260.7,262.0 264.0,261.5 271.5,276.0 282.0,276.5 288.0,275.5 292.6,268.6 304.0,268.6 308.0,263.5 312.0,261.8 318.0,252.0 322.5,246.8 332.7,254.5 340.0,262.0 348.7,254.5 355.0,243.0 360.2,237.6 368.8,250.8 377.0,247.0 389.0,241.2 393.5,237.5 402.2,249.6 421.0,250.3 428.0,253.5 433.0,254.0 438.0,261.0 447.0,257.0 458.0,254.5 462.0,251.5 474.2,236.6 475.1,236.6 489.7,255.7 497.0,263.0 505.7,255.7 510.3,252.0 528.0,252.0 538.0,242.5 548.0,232.0 551.0,229.5 558.0,224.0 563.0,215.5 568.0,208.0 574.1,195.0 579.6,193.6 589.3,175.0 589.3,340.5"/>
<polygon points="41.0,340.5 41.0,311.0 57.0,296.0 62.0,296.0 71.0,299.6 104.0,299.6 114.4,295.5 122.7,289.3 131.0,278.9 139.3,264.5 146.9,271.0 152.3,277.0 161.0,269.5 168.0,270.0 177.0,267.0 182.2,262.2 192.9,274.0 196.0,276.5 204.0,278.5 208.9,273.0 213.5,267.2 222.0,267.2 235.2,270.8 246.0,274.0 251.5,270.8 259.7,262.0 263.0,261.5 270.5,276.0 281.0,276.5 287.0,275.5 291.6,268.6 303.0,268.6 307.0,263.5 311.0,261.8 317.0,252.0 321.5,246.8 331.7,254.5 339.0,262.0 347.7,254.5 354.0,243.0 359.2,237.6 367.8,250.8 376.0,247.0 388.0,241.2 392.5,237.5 401.2,249.6 420.0,250.3 427.0,253.5 432.0,254.0 437.0,261.0 446.0,257.0 457.0,254.5 461.0,251.5 473.2,236.6 474.1,236.6 488.7,255.7 496.0,263.0 504.7,255.7 509.3,252.0 527.0,252.0 537.0,242.5 547.0,232.0 550.0,229.5 557.0,224.0 562.0,215.5 567.0,208.0 573.1,195.0 578.6,193.6 588.3,175.0 588.3,340.5"/>
<polygon points="40.0,340.5 40.0,311.0 56.0,296.0 61.0,296.0 70.0,299.6 103.0,299.6 113.4,295.5 121.7,289.3 130.0,278.9 138.3,264.5 145.9,271.0 151.3,277.0 160.0,269.5 167.0,270.0 176.0,267.0 181.2,262.2 191.9,274.0 195.0,276.5 203.0,278.5 207.9,273.0 212.5,267.2 221.0,267.2 234.2,270.8 245.0,274.0 250.5,270.8 258.7,262.0 262.0,261.5 269.5,276.0 280.0,276.5 286.0,275.5 290.6,268.6 302.0,268.6 306.0,263.5 310.0,261.8 316.0,252.0 320.5,246.8 330.7,254.5 338.0,262.0 346.7,254.5 353.0,243.0 358.2,237.6 366.8,250.8 375.0,247.0 387.0,241.2 391.5,237.5 400.2,249.6 419.0,250.3 426.0,253.5 431.0,254.0 436.0,261.0 445.0,257.0 456.0,254.5 460.0,251.5 472.2,236.6 473.1,236.6 487.7,255.7 495.0,263.0 503.7,255.7 508.3,252.0 526.0,252.0 536.0,242.5 546.0,232.0 549.0,229.5 556.0,224.0 561.0,215.5 566.0,208.0 572.1,195.0 577.6,193.6 587.3,175.0 587.3,340.5"/>
<polygon points="39.0,340.5 39.0,311.0 55.0,296.0 60.0,296.0 69.0,299.6 102.0,299.6 112.4,295.5 120.7,289.3 129.0,278.9 137.3,264.5 144.9,271.0 150.3,277.0 159.0,269.5 166.0,270.0 175.0,267.0 180.2,262.2 190.9,274.0 194.0,276.5 202.0,278.5 206.9,273.0 211.5,267.2 220.0,267.2 233.2,270.8 244.0,274.0 249.5,270.8 257.7,262.0 261.0,261.5 268.5,276.0 279.0,276.5 285.0,275.5 289.6,268.6 301.0,268.6 305.0,263.5 309.0,261.8 315.0,252.0 319.5,246.8 329.7,254.5 337.0,262.0 345.7,254.5 352.0,243.0 357.2,237.6 365.8,250.8 374.0,247.0 386.0,241.2 390.5,237.5 399.2,249.6 418.0,250.3 425.0,253.5 430.0,254.0 435.0,261.0 444.0,257.0 455.0,254.5 459.0,251.5 471.2,236.6 472.1,236.6 486.7,255.7 494.0,263.0 502.7,255.7 507.3,252.0 525.0,252.0 535.0,242.5 545.0,232.0 548.0,229.5 555.0,224.0 560.0,215.5 565.0,208.0 571.1,195.0 576.6,193.6 586.3,175.0 586.3,340.5"/>
<polygon points="38.0,340.5 38.0,311.0 54.0,296.0 59.0,296.0 68.0,299.6 101.0,299.6 111.4,295.5 119.7,289.3 128.0,278.9 136.3,264.5 143.9,271.0 149.3,277.0 158.0,269.5 165.0,270.0 174.0,267.0 179.2,262.2 189.9,274.0 193.0,276.5 201.0,278.5 205.9,273.0 210.5,267.2 219.0,267.2 232.2,270.8 243.0,274.0 248.5,270.8 256.7,262.0 260.0,261.5 267.5,276.0 278.0,276.5 284.0,275.5 288.6,268.6 300.0,268.6 304.0,263.5 308.0,261.8 314.0,252.0 318.5,246.8 328.7,254.5 336.0,262.0 344.7,254.5 351.0,243.0 356.2,237.6 364.8,250.8 373.0,247.0 385.0,241.2 389.5,237.5 398.2,249.6 417.0,250.3 424.0,253.5 429.0,254.0 434.0,261.0 443.0,257.0 454.0,254.5 458.0,251.5 470.2,236.6 471.1,236.6 485.7,255.7 493.0,263.0 501.7,255.7 506.3,252.0 524.0,252.0 534.0,242.5 544.0,232.0 547.0,229.5 554.0,224.0 559.0,215.5 564.0,208.0 570.1,195.0 575.6,193.6 585.3,175.0 585.3,340.5"/>
<polygon points="37.0,340.5 37.0,311.0 53.0,296.0 58.0,296.0 67.0,299.6 100.0,299.6 110.4,295.5 118.7,289.3 127.0,278.9 135.3,264.5 142.9,271.0 148.3,277.0 157.0,269.5 164.0,270.0 173.0,267.0 178.2,262.2 188.9,274.0 192.0,276.5 200.0,278.5 204.9,273.0 209.5,267.2 218.0,267.2 231.2,270.8 242.0,274.0 247.5,270.8 255.7,262.0 259.0,261.5 266.5,276.0 277.0,276.5 283.0,275.5 287.6,268.6 299.0,268.6 303.0,263.5 307.0,261.8 313.0,252.0 317.5,246.8 327.7,254.5 335.0,262.0 343.7,254.5 350.0,243.0 355.2,237.6 363.8,250.8 372.0,247.0 384.0,241.2 388.5,237.5 397.2,249.6 416.0,250.3 423.0,253.5 428.0,254.0 433.0,261.0 442.0,257.0 453.0,254.5 457.0,251.5 469.2,236.6 470.1,236.6 484.7,255.7 492.0,263.0 500.7,255.7 505.3,252.0 523.0,252.0 533.0,242.5 543.0,232.0 546.0,229.5 553.0,224.0 558.0,215.5 563.0,208.0 569.1,195.0 574.6,193.6 584.3,175.0 584.3,340.5"/>
<polygon points="36.0,340.5 36.0,311.0 52.0,296.0 57.0,296.0 66.0,299.6 99.0,299.6 109.4,295.5 117.7,289.3 126.0,278.9 134.3,264.5 141.9,271.0 147.3,277.0 156.0,269.5 163.0,270.0 172.0,267.0 177.2,262.2 187.9,274.0 191.0,276.5 199.0,278.5 203.9,273.0 208.5,267.2 217.0,267.2 230.2,270.8 241.0,274.0 246.5,270.8 254.7,262.0 258.0,261.5 265.5,276.0 276.0,276.5 282.0,275.5 286.6,268.6 298.0,268.6 302.0,263.5 306.0,261.8 312.0,252.0 316.5,246.8 326.7,254.5 334.0,262.0 342.7,254.5 349.0,243.0 354.2,237.6 362.8,250.8 371.0,247.0 383.0,241.2 387.5,237.5 396.2,249.6 415.0,250.3 422.0,253.5 427.0,254.0 432.0,261.0 441.0,257.0 452.0,254.5 456.0,251.5 468.2,236.6 469.1,236.6 483.7,255.7 491.0,263.0 499.7,255.7 504.3,252.0 522.0,252.0 532.0,242.5 542.0,232.0 545.0,229.5 552.0,224.0 557.0,215.5 562.0,208.0 568.1,195.0 573.6,193.6 583.3,175.0 583.3,340.5"/>
<polygon points="35.0,340.5 35.0,311.0 51.0,296.0 56.0,296.0 65.0,299.6 98.0,299.6 108.4,295.5 116.7,289.3 125.0,278.9 133.3,264.5 140.9,271.0 146.3,277.0 155.0,269.5 162.0,270.0 171.0,267.0 176.2,262.2 186.9,274.0 190.0,276.5 198.0,278.5 202.9,273.0 207.5,267.2 216.0,267.2 229.2,270.8 240.0,274.0 245.5,270.8 253.7,262.0 257.0,261.5 264.5,276.0 275.0,276.5 281.0,275.5 285.6,268.6 297.0,268.6 301.0,263.5 305.0,261.8 311.0,252.0 315.5,246.8 325.7,254.5 333.0,262.0 341.7,254.5 348.0,243.0 353.2,237.6 361.8,250.8 370.0,247.0 382.0,241.2 386.5,237.5 395.2,249.6 414.0,250.3 421.0,253.5 426.0,254.0 431.0,261.0 440.0,257.0 451.0,254.5 455.0,251.5 467.2,236.6 468.1,236.6 482.7,255.7 490.0,263.0 498.7,255.7 503.3,252.0 521.0,252.0 531.0,242.5 541.0,232.0 544.0,229.5 551.0,224.0 556.0,215.5 561.0,208.0 567.1,195.0 572.6,193.6 582.3,175.0 582.3,340.5"/>
<polygon points="34.0,340.5 34.0,311.0 50.0,296.0 55.0,296.0 64.0,299.6 97.0,299.6 107.4,295.5 115.7,289.3 124.0,278.9 132.3,264.5 139.9,271.0 145.3,277.0 154.0,269.5 161.0,270.0 170.0,267.0 175.2,262.2 185.9,274.0 189.0,276.5 197.0,278.5 201.9,273.0 206.5,267.2 215.0,267.2 228.2,270.8 239.0,274.0 244.5,270.8 252.7,262.0 256.0,261.5 263.5,276.0 274.0,276.5 280.0,275.5 284.6,268.6 296.0,268.6 300.0,263.5 304.0,261.8 310.0,252.0 314.5,246.8 324.7,254.5 332.0,262.0 340.7,254.5 347.0,243.0 352.2,237.6 360.8,250.8 369.0,247.0 381.0,241.2 385.5,237.5 394.2,249.6 413.0,250.3 420.0,253.5 425.0,254.0 430.0,261.0 439.0,257.0 450.0,254.5 454.0,251.5 466.2,236.6 467.1,236.6 481.7,255.7 489.0,263.0 497.7,255.7 502.3,252.0 520.0,252.0 530.0,242.5 540.0,232.0 543.0,229.5 550.0,224.0 555.0,215.5 560.0,208.0 566.1,195.0 571.6,193.6 581.3,175.0 581.3,340.5"/>
</clipPath></defs>
<g clip-path="url(#cl)"><g clip-path="url(#pc)">
<rect x="50" y="170" width="548" height="170" fill="url(#st)"/>
<polygon points="50.0,340.5 50.0,311.0 66.0,296.0 71.0,296.0 80.0,299.6 113.0,299.6 123.4,295.5 131.7,289.3 140.0,278.9 148.3,264.5 155.9,271.0 161.3,277.0 170.0,269.5 177.0,270.0 186.0,267.0 191.2,262.2 201.9,274.0 205.0,276.5 213.0,278.5 217.9,273.0 222.5,267.2 231.0,267.2 244.2,270.8 255.0,274.0 260.5,270.8 268.7,262.0 272.0,261.5 279.5,276.0 290.0,276.5 296.0,275.5 300.6,268.6 312.0,268.6 316.0,263.5 320.0,261.8 326.0,252.0 330.5,246.8 340.7,254.5 348.0,262.0 356.7,254.5 363.0,243.0 368.2,237.6 376.8,250.8 385.0,247.0 397.0,241.2 401.5,237.5 410.2,249.6 429.0,250.3 436.0,253.5 441.0,254.0 446.0,261.0 455.0,257.0 466.0,254.5 470.0,251.5 482.2,236.6 483.1,236.6 497.7,255.7 505.0,263.0 513.7,255.7 518.3,252.0 536.0,252.0 546.0,242.5 556.0,232.0 559.0,229.5 566.0,224.0 571.0,215.5 576.0,208.0 582.1,195.0 587.6,193.6 597.3,175.0 597.3,340.5" fill="#b3230b"/>
<g stroke="#ff9090" stroke-opacity="0.4" stroke-width="1.6">
<line x1="115.8" y1="171" x2="115.8" y2="339.5"/>
<line x1="168.8" y1="171" x2="168.8" y2="339.5"/>
<line x1="262.2" y1="171" x2="262.2" y2="339.5"/>
<line x1="340.8" y1="171" x2="340.8" y2="339.5"/>
<line x1="435.8" y1="171" x2="435.8" y2="339.5"/>
<line x1="531" y1="171" x2="531" y2="339.5"/>
</g></g></g>
<g stroke="#9a9a9a" stroke-width="1.2" fill="none">
<line x1="50" y1="116.5" x2="50" y2="345"/>
<line x1="597.3" y1="116.5" x2="597.3" y2="345"/>
<line x1="46" y1="339.0" x2="50" y2="339.0"/>
<line x1="597.3" y1="339.0" x2="601.3" y2="339.0"/>
<line x1="46" y1="328.1" x2="50" y2="328.1"/>
<line x1="597.3" y1="328.1" x2="601.3" y2="328.1"/>
<line x1="46" y1="317.1" x2="50" y2="317.1"/>
<line x1="597.3" y1="317.1" x2="601.3" y2="317.1"/>
<line x1="46" y1="306.1" x2="50" y2="306.1"/>
<line x1="597.3" y1="306.1" x2="601.3" y2="306.1"/>
<line x1="46" y1="295.2" x2="50" y2="295.2"/>
<line x1="597.3" y1="295.2" x2="601.3" y2="295.2"/>
<line x1="46" y1="284.2" x2="50" y2="284.2"/>
<line x1="597.3" y1="284.2" x2="601.3" y2="284.2"/>
<line x1="46" y1="273.3" x2="50" y2="273.3"/>
<line x1="597.3" y1="273.3" x2="601.3" y2="273.3"/>
<line x1="46" y1="262.4" x2="50" y2="262.4"/>
<line x1="597.3" y1="262.4" x2="601.3" y2="262.4"/>
<line x1="46" y1="251.4" x2="50" y2="251.4"/>
<line x1="597.3" y1="251.4" x2="601.3" y2="251.4"/>
<line x1="46" y1="240.4" x2="50" y2="240.4"/>
<line x1="597.3" y1="240.4" x2="601.3" y2="240.4"/>
<line x1="46" y1="229.5" x2="50" y2="229.5"/>
<line x1="597.3" y1="229.5" x2="601.3" y2="229.5"/>
<line x1="46" y1="218.6" x2="50" y2="218.6"/>
<line x1="597.3" y1="218.6" x2="601.3" y2="218.6"/>
<line x1="46" y1="207.6" x2="50" y2="207.6"/>
<line x1="597.3" y1="207.6" x2="601.3" y2="207.6"/>
<line x1="46" y1="196.7" x2="50" y2="196.7"/>
<line x1="597.3" y1="196.7" x2="601.3" y2="196.7"/>
<line x1="46" y1="185.7" x2="50" y2="185.7"/>
<line x1="597.3" y1="185.7" x2="601.3" y2="185.7"/>
<line x1="46" y1="174.8" x2="50" y2="174.8"/>
<line x1="597.3" y1="174.8" x2="601.3" y2="174.8"/>
<line x1="46" y1="163.8" x2="50" y2="163.8"/>
<line x1="597.3" y1="163.8" x2="601.3" y2="163.8"/>
<line x1="46" y1="152.8" x2="50" y2="152.8"/>
<line x1="597.3" y1="152.8" x2="601.3" y2="152.8"/>
<line x1="46" y1="141.9" x2="50" y2="141.9"/>
<line x1="597.3" y1="141.9" x2="601.3" y2="141.9"/>
</g>
<g font-size="9" fill="#6c6c6c">
<text x="44.5" y="340.7" text-anchor="end">0</text>
<text x="603.5" y="340.7">0</text>
<text x="44.5" y="318.8" text-anchor="end">200</text>
<text x="603.5" y="318.8">200</text>
<text x="44.5" y="296.9" text-anchor="end">400</text>
<text x="603.5" y="296.9">400</text>
<text x="44.5" y="275.0" text-anchor="end">600</text>
<text x="603.5" y="275.0">600</text>
<text x="44.5" y="253.1" text-anchor="end">800</text>
<text x="603.5" y="253.1">800</text>
<text x="44.5" y="231.2" text-anchor="end">1000</text>
<text x="603.5" y="231.2">1000</text>
<text x="44.5" y="209.3" text-anchor="end">1200</text>
<text x="603.5" y="209.3">1200</text>
<text x="44.5" y="187.4" text-anchor="end">1400</text>
<text x="603.5" y="187.4">1400</text>
<text x="44.5" y="165.5" text-anchor="end">1600</text>
<text x="603.5" y="165.5">1600</text>
<text x="44.5" y="143.6" text-anchor="end">1800</text>
<text x="603.5" y="143.6">1800</text>
</g>
<g font-size="12.5" fill="#1a1a1a" stroke="#1a1a1a" stroke-width="0.25">
<text transform="translate(120.0,166) rotate(-90)" textLength="79" lengthAdjust="spacingAndGlyphs">Solbeira / 378 m</text>
<text transform="translate(173.0,166) rotate(-90)" textLength="79" lengthAdjust="spacingAndGlyphs">Maceda / 593 m</text>
<text transform="translate(266.4,166) rotate(-90)" textLength="74.3" lengthAdjust="spacingAndGlyphs">Luintra / 638 m</text>
<text transform="translate(345.0,165.4) rotate(-90)" textLength="72" lengthAdjust="spacingAndGlyphs">Caxide / 755 m</text>
<text transform="translate(440.0,165.4) rotate(-90)" textLength="118" lengthAdjust="spacingAndGlyphs">Castro Caldelas / 785 m</text>
<text transform="translate(535.2,137.7) rotate(-90)" textLength="29" lengthAdjust="spacingAndGlyphs">740 m</text>
</g>
<polygon points="6,345.2 643,345.2 646.3,363.3 9.8,363.3" fill="#9d9ea0"/>
<g font-size="14" font-weight="bold" fill="#fff" text-anchor="middle">
<text x="37" y="358.8" font-size="12.5" stroke="#fff" stroke-width="0.3" textLength="14.2" lengthAdjust="spacingAndGlyphs">km</text>
<text x="115.5" y="359.8" transform="translate(115.5,0) scale(0.74,1) translate(-115.5,0)">16</text>
<text x="168.9" y="359.8" transform="translate(168.9,0) scale(0.74,1) translate(-168.9,0)">29</text>
<text x="260.9" y="359.8" transform="translate(260.9,0) scale(0.74,1) translate(-260.9,0)">51,4</text>
<text x="340.2" y="359.8" transform="translate(340.2,0) scale(0.74,1) translate(-340.2,0)">70,7</text>
<text x="435.9" y="359.8" transform="translate(435.9,0) scale(0.74,1) translate(-435.9,0)">94</text>
<text x="530.3" y="359.8" transform="translate(530.3,0) scale(0.74,1) translate(-530.3,0)">117</text>
<text x="596.0" y="359.8" transform="translate(596.0,0) scale(0.74,1) translate(-596.0,0)">133</text>
</g>
<g stroke="#8a8a8a" stroke-width="1.2"><line x1="50" y1="371" x2="597.3" y2="371"/>
<line x1="49.8" y1="367" x2="49.8" y2="371"/>
<line x1="90.9" y1="367" x2="90.9" y2="371"/>
<line x1="131.9" y1="367" x2="131.9" y2="371"/>
<line x1="173.0" y1="367" x2="173.0" y2="371"/>
<line x1="214.1" y1="367" x2="214.1" y2="371"/>
<line x1="255.2" y1="367" x2="255.2" y2="371"/>
<line x1="296.2" y1="367" x2="296.2" y2="371"/>
<line x1="337.3" y1="367" x2="337.3" y2="371"/>
<line x1="378.4" y1="367" x2="378.4" y2="371"/>
<line x1="419.4" y1="367" x2="419.4" y2="371"/>
<line x1="460.5" y1="367" x2="460.5" y2="371"/>
<line x1="501.6" y1="367" x2="501.6" y2="371"/>
<line x1="542.6" y1="367" x2="542.6" y2="371"/>
<line x1="583.7" y1="367" x2="583.7" y2="371"/>
<line x1="597.3" y1="367" x2="597.3" y2="371"/>
</g>
<g font-size="11" font-weight="bold" fill="#444" stroke="#444" stroke-width="0.35" text-anchor="middle">
<text x="49.8" y="383.6" transform="translate(49.8,0) scale(0.68,1) translate(-49.8,0)">0</text>
<text x="90.9" y="383.6" transform="translate(90.9,0) scale(0.68,1) translate(-90.9,0)">10</text>
<text x="131.9" y="383.6" transform="translate(131.9,0) scale(0.68,1) translate(-131.9,0)">20</text>
<text x="173.0" y="383.6" transform="translate(173.0,0) scale(0.68,1) translate(-173.0,0)">30</text>
<text x="214.1" y="383.6" transform="translate(214.1,0) scale(0.68,1) translate(-214.1,0)">40</text>
<text x="255.2" y="383.6" transform="translate(255.2,0) scale(0.68,1) translate(-255.2,0)">50</text>
<text x="296.2" y="383.6" transform="translate(296.2,0) scale(0.68,1) translate(-296.2,0)">60</text>
<text x="337.3" y="383.6" transform="translate(337.3,0) scale(0.68,1) translate(-337.3,0)">70</text>
<text x="378.4" y="383.6" transform="translate(378.4,0) scale(0.68,1) translate(-378.4,0)">80</text>
<text x="419.4" y="383.6" transform="translate(419.4,0) scale(0.68,1) translate(-419.4,0)">90</text>
<text x="460.5" y="383.6" transform="translate(460.5,0) scale(0.68,1) translate(-460.5,0)">100</text>
<text x="501.6" y="383.6" transform="translate(501.6,0) scale(0.68,1) translate(-501.6,0)">110</text>
<text x="542.6" y="383.6" transform="translate(542.6,0) scale(0.68,1) translate(-542.6,0)">120</text>
<text x="583.7" y="383.6" transform="translate(583.7,0) scale(0.68,1) translate(-583.7,0)">130</text>
</g>
<g font-size="15.5" font-weight="bold" fill="#111" stroke="#111" stroke-width="0.3">
<text transform="translate(18.8,339.9) rotate(-90)" textLength="53.6" lengthAdjust="spacingAndGlyphs">OURENSE</text>
<text transform="translate(18.8,283) rotate(-90)" textLength="49.4" lengthAdjust="spacingAndGlyphs">TERMAL</text>
<text transform="translate(18.8,230.70000000000002) rotate(-90)" font-size="14">/</text>
<text transform="translate(18.8,223.3) rotate(-90)" textLength="20.5" lengthAdjust="spacingAndGlyphs">224</text>
<text transform="translate(18.8,197.3) rotate(-90)" textLength="8.8" lengthAdjust="spacingAndGlyphs">m</text>
<text transform="translate(641.1,340.5) rotate(-90)" textLength="55.5" lengthAdjust="spacingAndGlyphs">ESTACIÓN</text>
<text transform="translate(641.1,281.5) rotate(-90)" textLength="16.0" lengthAdjust="spacingAndGlyphs">DE</text>
<text transform="translate(641.1,261.5) rotate(-90)" textLength="56.3" lengthAdjust="spacingAndGlyphs">MONTAÑA</text>
<text transform="translate(641.1,203.4) rotate(-90)" textLength="15.4" lengthAdjust="spacingAndGlyphs">DE</text>
<text transform="translate(641.1,184.6) rotate(-90)" textLength="73.0" lengthAdjust="spacingAndGlyphs">MANZANEDA</text>
<text transform="translate(641.1,108.8) rotate(-90)" font-size="14">/</text>
<text transform="translate(641.1,99) rotate(-90)" textLength="33.2" lengthAdjust="spacingAndGlyphs">1.492</text>
<text transform="translate(641.1,62.8) rotate(-90)" textLength="9.5" lengthAdjust="spacingAndGlyphs">m</text>
</g>
<circle cx="50" cy="100.7" r="16" fill="#35a8e0"/>
<polygon points="43.8,91.6 43.8,109.8 59.9,101" fill="#fff" stroke="#fff" stroke-width="0.6" stroke-linejoin="round"/>
<circle cx="597.1" cy="63.5" r="15.5" fill="#1f3f8f"/>
<path d="M592.2,54.9 L589.9,64.4 M592.4,55.2 L589.2,57.6" stroke="#fff" stroke-width="1.9" fill="none"/>
<text x="593.5" y="59.2" font-size="6.5" font-weight="bold" font-style="italic" fill="#fff">a</text>
<polyline points="588.2,74.3 591.8,70.3 593.7,71.3 600.8,61.3 605.6,67.6 607.9,65.0 611.6,69.8" fill="none" stroke="#fff" stroke-width="1.5" stroke-linejoin="miter" stroke-miterlimit="10"/>
<polyline points="589.0,75.0 591.9,72.0 594.0,72.9 600.7,63.6 603.0,73.8" fill="none" stroke="#fff" stroke-width="1.1"/>
<defs><clipPath id="cc"><circle cx="597.6" cy="100.6" r="15.6"/></clipPath></defs>
<circle cx="597.6" cy="100.6" r="16.2" fill="#f4d0d2"/>
<g clip-path="url(#cc)"><rect x="581" y="84" width="34" height="34" fill="#fff"/>
<rect x="588.1" y="84.8" width="6.4" height="6.4" fill="#d8101d"/>
<rect x="600.8" y="84.8" width="6.4" height="6.4" fill="#d8101d"/>
<rect x="581.8" y="91.1" width="6.4" height="6.4" fill="#d8101d"/>
<rect x="594.4" y="91.1" width="6.4" height="6.4" fill="#d8101d"/>
<rect x="607.1" y="91.1" width="6.4" height="6.4" fill="#d8101d"/>
<rect x="588.1" y="97.4" width="6.4" height="6.4" fill="#d8101d"/>
<rect x="600.8" y="97.4" width="6.4" height="6.4" fill="#d8101d"/>
<rect x="581.8" y="103.8" width="6.4" height="6.4" fill="#d8101d"/>
<rect x="594.4" y="103.8" width="6.4" height="6.4" fill="#d8101d"/>
<rect x="607.1" y="103.8" width="6.4" height="6.4" fill="#d8101d"/>
<rect x="588.1" y="110.1" width="6.4" height="6.4" fill="#d8101d"/>
<rect x="600.8" y="110.1" width="6.4" height="6.4" fill="#d8101d"/>
</g>
<circle cx="531.2" cy="155.8" r="10.9" fill="#a0a0a0"/>
<text x="523.4" y="154.6" font-size="6" font-weight="bold" font-style="italic" fill="#fff" textLength="7.2" lengthAdjust="spacingAndGlyphs">CP</text>
<polyline points="523.9,163.6 527.4,160.6 528.4,161.6 533.3,154.2 536.7,159.2 538.3,157.4 540.6,159.8" fill="none" stroke="#fff" stroke-width="1.1"/>
<polyline points="533.1,157 535.6,163.2" fill="none" stroke="#fff" stroke-width="0.9"/>
</svg></body></html>
